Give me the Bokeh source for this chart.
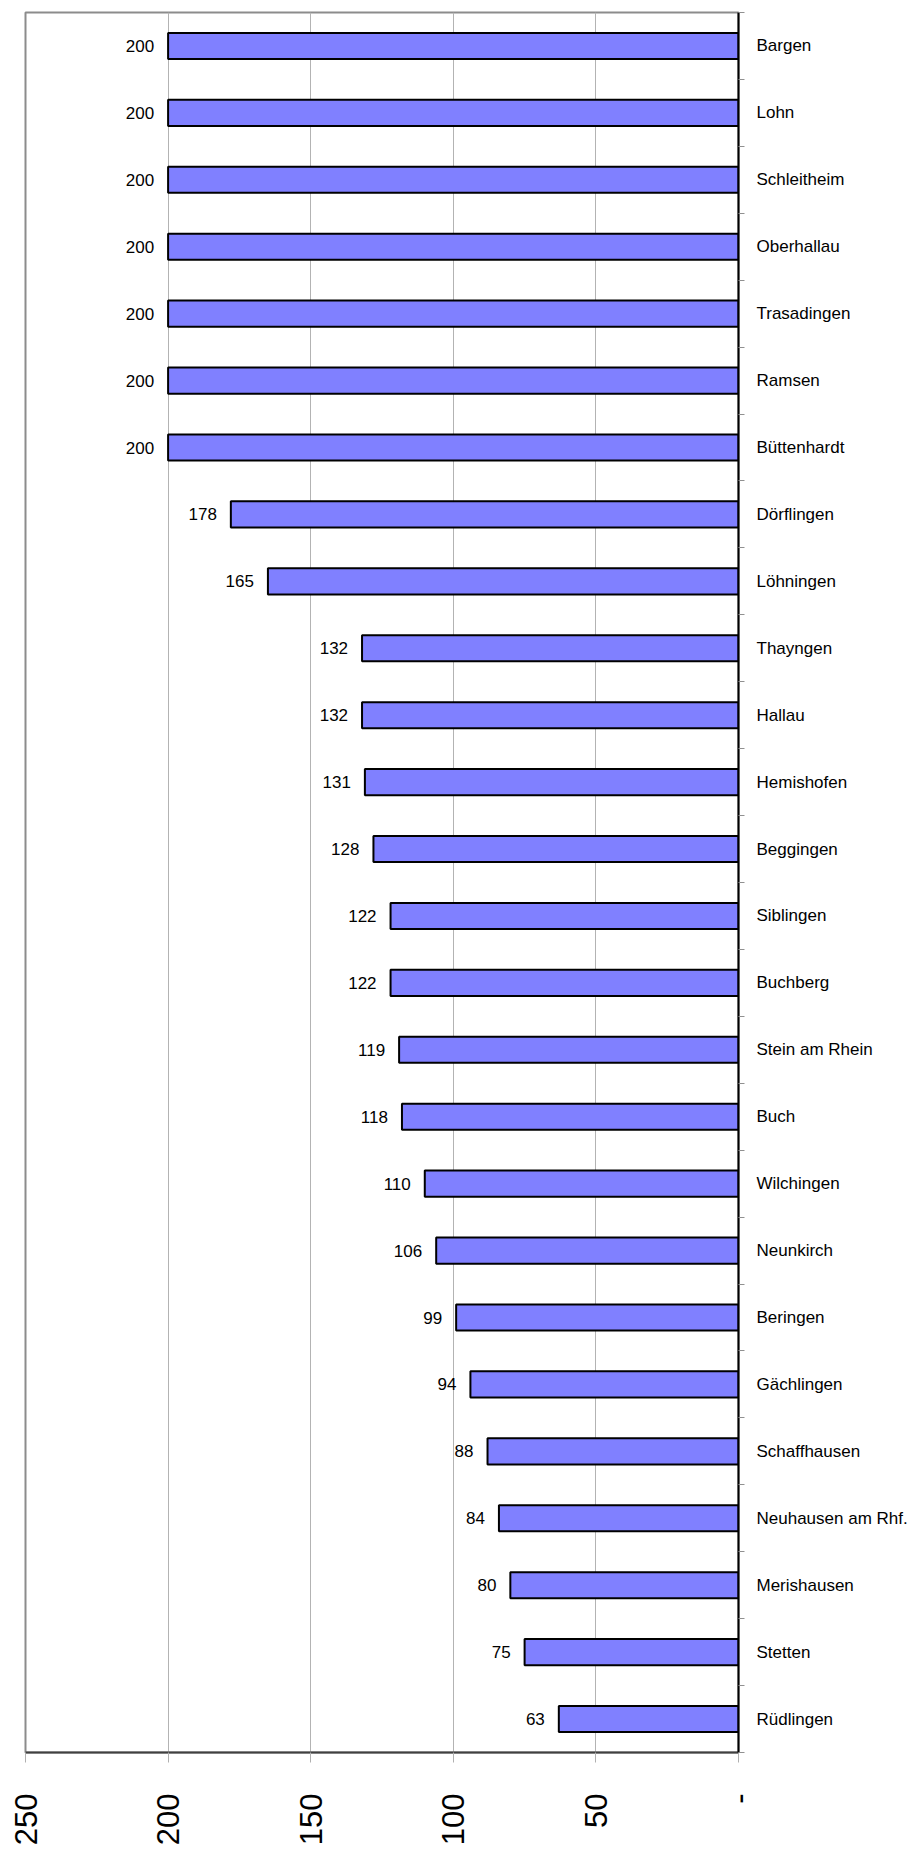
from math import pi
from bokeh.plotting import figure
from bokeh.models import ColumnDataSource, Range1d, FixedTicker
from bokeh.core.properties import value
from bokeh.embed import file_html
from bokeh.resources import INLINE

municipalities = ["Bargen", "Lohn", "Schleitheim", "Oberhallau", "Trasadingen", "Ramsen",
                  "Büttenhardt", "Dörflingen", "Löhningen", "Thayngen", "Hallau", "Hemishofen",
                  "Beggingen", "Siblingen", "Buchberg", "Stein am Rhein", "Buch", "Wilchingen",
                  "Neunkirch", "Beringen", "Gächlingen", "Schaffhausen", "Neuhausen am Rhf.",
                  "Merishausen", "Stetten", "Rüdlingen"]
values = [200, 200, 200, 200, 200, 200, 200, 178, 165, 132, 132, 131, 128, 122, 122,
          119, 118, 110, 106, 99, 94, 88, 84, 80, 75, 63]
x_ticks = [250, 200, 150, 100, 50, 0]
x_tick_labels = {250: "250", 200: "200", 150: "150", 100: "100", 50: "50", 0: "-"}

n = len(municipalities)
positions = [n - i for i in range(n)]
boundaries = [k + 0.5 for k in range(n + 1)]

src = ColumnDataSource(dict(y=positions, v=values, name=municipalities,
                            lab=[str(v) for v in values]))

W, H = 910, 1848
p = figure(width=W, height=H, output_backend="svg", toolbar_location=None,
           x_range=Range1d(250, 0), y_range=Range1d(0.5, n + 0.5),
           y_axis_location="right",
           min_border_left=25, min_border_right=W - 740, min_border_top=12,
           min_border_bottom=H - 1754)

p.hbar(y="y", left=0, right="v", height=0.39, source=src,
       fill_color="#8080ff", line_color="black", line_width=2)

p.text(x="v", y="y", text="lab", source=src, x_offset=-14, text_align="right",
       text_baseline="middle", text_font=value("Liberation Sans"),
       text_font_size="17px", text_color="black")

p.outline_line_color = "#8c8c8c"
p.outline_line_width = 2
p.background_fill_color = "white"
p.border_fill_color = "white"

# x axis
xa = p.xaxis[0]
xa.ticker = FixedTicker(ticks=x_ticks)
xa.major_label_overrides = x_tick_labels
xa.major_label_orientation = pi / 2
xa.major_label_text_font = "Liberation Sans"
xa.major_label_text_font_size = "31px"
xa.major_label_text_color = "black"
xa.major_label_standoff = 31
xa.major_tick_out = 10
xa.major_tick_in = 0
xa.major_tick_line_color = "#b0b0b0"
xa.minor_tick_line_color = None
xa.axis_line_color = "#404040"
xa.axis_line_width = 2

p.xgrid.ticker = FixedTicker(ticks=x_ticks)
p.xgrid.grid_line_color = "#b3b3b3"
p.xgrid.grid_line_width = 1
p.ygrid.grid_line_color = None

# y axis (right)
ya = p.yaxis[0]
ya.ticker = FixedTicker(ticks=positions, minor_ticks=boundaries)
ya.major_label_overrides = {pos: nm for pos, nm in zip(positions, municipalities)}
ya.major_label_text_font = "Liberation Sans"
ya.major_label_text_font_size = "17px"
ya.major_label_text_color = "black"
ya.major_label_standoff = 12
ya.major_tick_line_color = None
ya.major_tick_out = 0
ya.major_tick_in = 0
ya.minor_tick_out = 6
ya.minor_tick_in = 0
ya.minor_tick_line_color = "#909090"
ya.axis_line_color = "black"
ya.axis_line_width = 2

open("out.html", "w").write(file_html(p, INLINE))
